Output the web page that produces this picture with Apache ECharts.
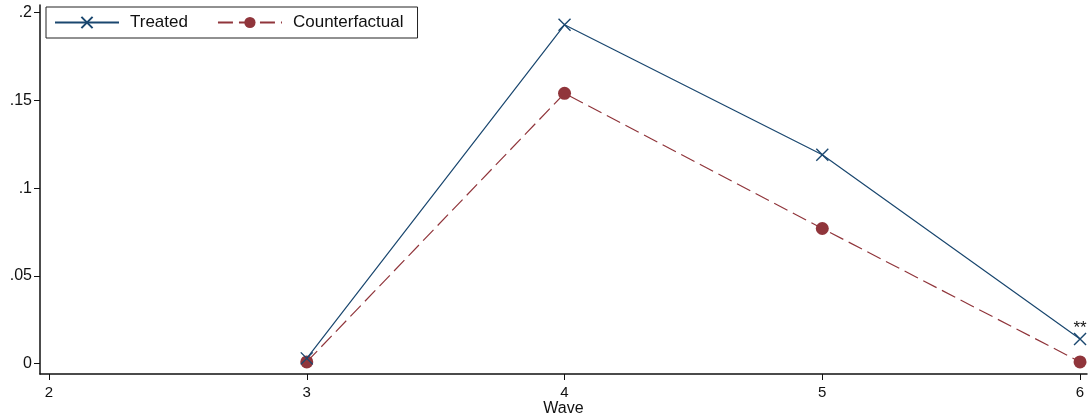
<!DOCTYPE html>
<html>
<head>
<meta charset="utf-8">
<script src="https://cdn.jsdelivr.net/npm/echarts@6/dist/echarts.min.js"></script>
<style>
  html, body { margin: 0; padding: 0; background: #fff; }
  #chart { width: 1091px; height: 418px; }
</style>
</head>
<body>
<div id="chart"></div>
<script>
// Survey waves and the share for each group
const waves = [3, 4, 5, 6];
const treated = [0.003, 0.193, 0.119, 0.014];
const counterfactual = [0.001, 0.154, 0.077, 0.001];
const xTicks = [2, 3, 4, 5, 6];
const yTicks = [0, 0.05, 0.1, 0.15, 0.2];
const yTickLabels = ['0', '.05', '.1', '.15', '.2'];
const significance = ['', '', '', '**'];

const NAVY = '#1a476f';
const MAROON = '#90353b';
const FONT = '"Liberation Sans", Arial, sans-serif';

const chart = echarts.init(document.getElementById('chart'), null, { renderer: 'canvas' });

const xSymbol = 'path://M0,0L10,10M10,0L0,10';

chart.setOption({
  backgroundColor: '#ffffff',
  animation: false,
  textStyle: { fontFamily: FONT },
  grid: { left: 40, right: 4, top: 5, bottom: 44, containLabel: false, outerBoundsMode: 'none' },
  legend: {
    left: 46, top: 7,
    orient: 'horizontal',
    borderColor: '#222', borderWidth: 1,
    padding: [7, 14, 7, 8],
    itemGap: 29,
    itemWidth: 64, itemHeight: 14,
    textStyle: { fontFamily: FONT, fontSize: 17, color: '#111', padding: [0, 0, 0, 6] },
    data: ['Treated', 'Counterfactual']
  },
  xAxis: {
    type: 'value',
    min: 1.965, max: 6.027,
    name: 'Wave', nameLocation: 'middle', nameGap: 27, nameMoveOverlap: false,
    nameTextStyle: { fontFamily: FONT, fontSize: 16, color: '#111' },
    axisLine: { show: true, onZero: false, lineStyle: { color: '#111', width: 1.5 } },
    axisTick: { show: true, length: 6, lineStyle: { color: '#111' }, customValues: xTicks },
    axisLabel: { fontFamily: FONT, fontSize: 15, color: '#111', margin: 11, customValues: xTicks,
                 formatter: v => String(v) },
    splitLine: { show: false }
  },
  yAxis: {
    type: 'value',
    min: -0.0059, max: 0.2043,
    axisLine: { show: true, onZero: false, lineStyle: { color: '#111', width: 1.5 } },
    axisTick: { show: true, length: 6, lineStyle: { color: '#111' }, customValues: yTicks },
    axisLabel: { fontFamily: FONT, fontSize: 16, color: '#111', margin: 8, customValues: yTicks,
                 formatter: v => {
                   const i = yTicks.findIndex(t => Math.abs(t - v) < 1e-9);
                   return i >= 0 ? yTickLabels[i] : '';
                 } },
    splitLine: { show: false }
  },
  series: [
    {
      name: 'Treated',
      type: 'line',
      data: waves.map((w, i) => [w, treated[i]]),
      color: NAVY,
      symbol: xSymbol,
      symbolSize: 12,
      showAllSymbol: true,
      lineStyle: { color: NAVY, width: 1.2 },
      itemStyle: { color: NAVY, borderColor: NAVY, borderWidth: 1.4 },
      label: {
        show: true, position: 'top', distance: -4,
        fontFamily: FONT, fontSize: 17, color: '#111',
        formatter: p => significance[p.dataIndex]
      },
      z: 3
    },
    {
      name: 'Counterfactual',
      type: 'line',
      data: waves.map((w, i) => [w, counterfactual[i]]),
      color: MAROON,
      symbol: 'circle',
      symbolSize: 13,
      showAllSymbol: true,
      lineStyle: { color: MAROON, width: 1.2, type: [15, 6] },
      itemStyle: { color: MAROON },
      z: 2
    }
  ]
});
</script>
</body>
</html>
